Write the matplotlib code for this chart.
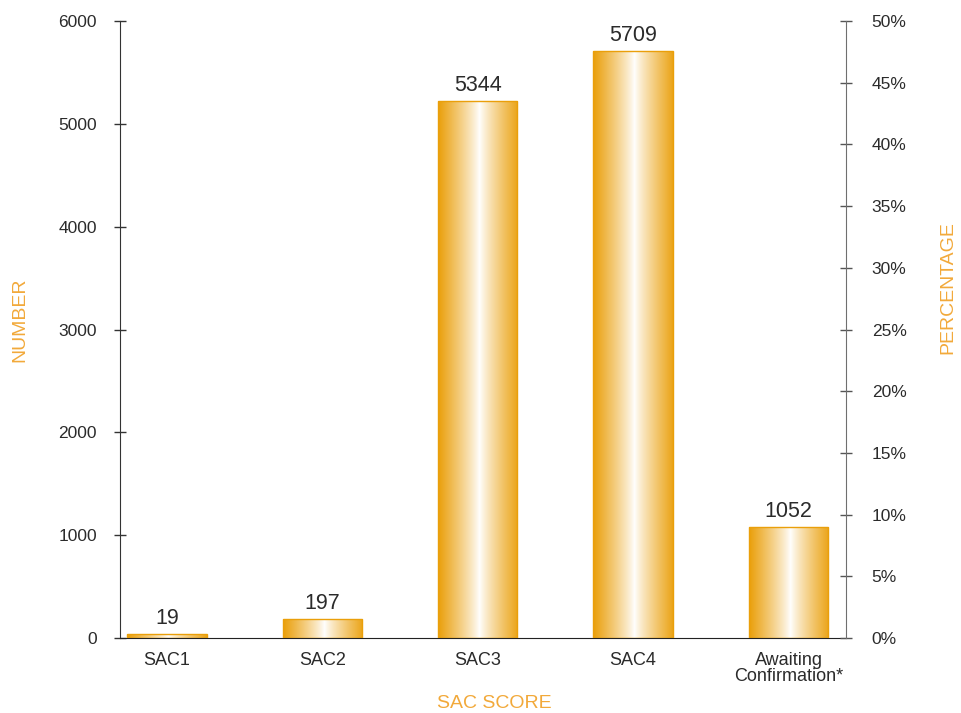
import numpy as np
import matplotlib
matplotlib.use("Agg")
import matplotlib.pyplot as plt
from matplotlib.colors import LinearSegmentedColormap

categories = ["SAC1", "SAC2", "SAC3", "SAC4", "Awaiting\nConfirmation*"]
bar_heights = [40, 185, 5220, 5709, 1080]
value_labels = ["19", "197", "5344", "5709", "1052"]
left_ticks = [0, 1000, 2000, 3000, 4000, 5000, 6000]
right_ticks = [0, 5, 10, 15, 20, 25, 30, 35, 40, 45, 50]

ORANGE = "#EA9F0A"
LABEL_ORANGE = "#F2A93A"
TEXT = "#2b2b2b"

plt.rcParams['font.family'] = ['Liberation Sans', 'DejaVu Sans']

fig = plt.figure(figsize=(9.61, 7.13), dpi=100)
ax = fig.add_axes([0.1249, 0.1052, 0.8803 - 0.1249, 0.9705 - 0.1052])

x = np.arange(len(categories))
width = 0.51

# horizontal gradient: orange at edges, white in middle
g = np.linspace(0, 1, 256)
t = np.abs(g - 0.52) / 0.52
t = np.clip(t, 0, 1) ** 0.85
grad = t[np.newaxis, :]
cmap = LinearSegmentedColormap.from_list("og", ["#FFFFFF", ORANGE])

bars = ax.bar(x, bar_heights, width=width, facecolor="none",
              edgecolor=ORANGE, linewidth=1.0, zorder=3)
for b in bars:
    x0, y0 = b.get_x(), b.get_y()
    w, h = b.get_width(), b.get_height()
    im = ax.imshow(grad, cmap=cmap, vmin=0, vmax=1, aspect="auto",
                   extent=(x0, x0 + w, y0, y0 + h), zorder=2,
                   interpolation="bilinear")
    im.set_clip_path(b)

for xi, h, lab in zip(x, bar_heights, value_labels):
    ax.text(xi, h + 50, lab, ha="center", va="bottom", fontsize=15.5,
            color=TEXT)

ax.set_xlim(-0.302, 4.37)
ax.set_ylim(0, 6000)
ax.set_yticks(left_ticks)
ax.set_xticks(x)
ax.set_xticklabels(categories, fontsize=13, color=TEXT, linespacing=0.95)
ax.tick_params(axis="x", length=0, pad=10)
ax.tick_params(axis="y", direction="inout", length=9, width=1,
               labelsize=12.5, labelcolor=TEXT, pad=12, color="#333333")

for s in ["top", "right"]:
    ax.spines[s].set_visible(False)
ax.spines["left"].set_color("#333333")
ax.spines["bottom"].set_color("#222222")

ax2 = ax.twinx()
ax2.set_ylim(0, 50)
ax2.set_yticks(right_ticks)
ax2.set_yticklabels([f"{v}%" for v in right_ticks])
ax2.tick_params(axis="y", direction="inout", length=9, width=1,
                labelsize=12.5, labelcolor=TEXT, pad=14, color="#555555")
for s in ["top", "left", "bottom"]:
    ax2.spines[s].set_visible(False)
ax2.spines["right"].set_color("#6f6f6f")

fig.text(20 / 961, 1 - 320 / 713, "NUMBER", rotation=90, ha="center",
         va="center", fontsize=14, color=LABEL_ORANGE)
fig.text(948 / 961, 1 - 288 / 713, "PERCENTAGE", rotation=90, ha="center",
         va="center", fontsize=14, color=LABEL_ORANGE)
fig.text(494 / 961, 1 - 703 / 713, "SAC SCORE", ha="center",
         va="center", fontsize=14, color=LABEL_ORANGE)

fig.savefig("out.png", dpi=100)
